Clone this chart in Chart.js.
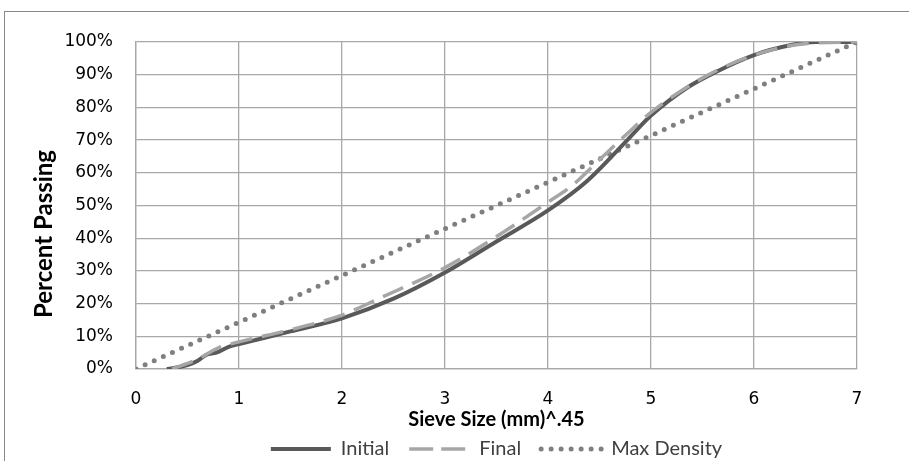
<!DOCTYPE html>
<html>
<head>
<meta charset="utf-8">
<script src="https://cdn.jsdelivr.net/npm/chart.js@4.4.1/dist/chart.umd.min.js"></script>
<style>
  html, body { margin: 0; padding: 0; background: #fff; overflow: hidden; }
  #frame { position: absolute; left: 4px; top: 11px; width: 930px; height: 480px; border: 1.5px solid #8a8a8a; }
  #wrap { position: absolute; left: 0; top: 0; width: 909px; height: 469px; }
</style>
</head>
<body>
<div id="frame"></div>
<div id="wrap"><canvas id="myChart"></canvas></div>
<script>
// chart data (x = sieve size (mm)^0.45, y = percent passing)
var initialX = [0.3, 0.5, 0.6, 0.68, 0.78, 0.9, 1.0, 1.5, 2.0, 2.5, 3.0, 3.5, 4.0, 4.38, 4.77, 5.0, 5.35, 5.64, 6.0, 6.35, 6.6, 7.0];
var initialY = [0, 1.2, 2.5, 4.3, 5.0, 6.8, 7.6, 11.5, 15.5, 21.5, 29.5, 39, 48.5, 57.5, 70, 77.5, 86, 91, 96, 99, 100, 100];
var finalX = [0.35, 0.6, 0.8, 1.0, 1.5, 2.0, 2.37, 3.0, 3.5, 4.0, 4.23, 4.5, 4.77, 5.0, 5.5, 6.0, 6.5, 7.0];
var finalY = [0, 3, 6.5, 8.3, 12, 16.5, 21.7, 31, 40.5, 51, 56, 64, 72, 78.5, 89, 96, 99.5, 100];
var maxX = [0, 1, 2, 3, 4, 5, 6, 7];
var maxY = [0, 14.3, 28.6, 42.9, 57.1, 71.4, 85.7, 100];
var seriesNames = ["Initial", "Final", "Max Density"];
var xTitle = "Sieve Size (mm)^.45";
var yTitle = "Percent Passing";

function pts(xs, ys) {
    return xs.map(function (x, i) { return { x: x, y: ys[i] }; });
}

var gridColor = "#a8a8a8";

// y axis title, drawn a bit below the middle like the original
var yTitlePlugin = {
    id: "yTitle",
    afterDraw: function (chart) {
        var c = chart.ctx;
        c.save();
        c.translate(44, 234);
        c.rotate(-Math.PI / 2);
        c.font = "bold 24px Lato";
        c.fillStyle = "#000";
        c.textAlign = "center";
        c.textBaseline = "middle";
        c.fillText(yTitle, 0, 0);
        c.restore();
    }
};

var ctx = document.getElementById("myChart").getContext("2d");
var myChart = new Chart(ctx, {
    type: "line",
    data: {
        datasets: [{
            label: seriesNames[0],
            data: pts(initialX, initialY),
            borderColor: "#595959",
            backgroundColor: "#595959",
            borderWidth: 4,
            pointRadius: 0,
            cubicInterpolationMode: "monotone",
            order: 1
        }, {
            label: seriesNames[1],
            data: pts(finalX, finalY),
            borderColor: "#a6a6a6",
            backgroundColor: "#a6a6a6",
            borderWidth: 3.5,
            borderDash: [22, 10],
            pointRadius: 0,
            cubicInterpolationMode: "monotone",
            order: 0
        }, {
            label: seriesNames[2],
            data: pts(maxX, maxY),
            borderColor: "#7f7f7f",
            backgroundColor: "#7f7f7f",
            borderWidth: 5,
            borderDash: [0, 10],
            borderCapStyle: "round",
            pointRadius: 0,
            order: 2
        }]
    },
    options: {
        responsive: true,
        maintainAspectRatio: false,
        animation: false,
        layout: { padding: { left: 0, right: 52, top: 42, bottom: 0 } },
        plugins: {
            legend: {
                position: "bottom",
                fullSize: false,
                labels: {
                    boxWidth: 60,
                    boxHeight: 0,
                    padding: 20,
                    color: "#404040",
                    font: { family: "Lato", size: 20 },
                    sort: function (a, b) { return a.datasetIndex - b.datasetIndex; }
                }
            },
            tooltip: { enabled: false }
        },
        scales: {
            x: {
                type: "linear",
                min: 0,
                max: 7,
                afterFit: function (scale) { scale.height = 50; },
                ticks: { stepSize: 1, padding: 20, color: "#000", font: { family: "DejaVu Sans", size: 17 } },
                grid: { color: gridColor, lineWidth: 1.3, drawTicks: false },
                border: { color: gridColor, width: 1.3 },
                title: {
                    display: true,
                    text: xTitle,
                    color: "#000",
                    padding: { top: 0, bottom: -11 },
                    font: { family: "Lato", size: 20, weight: "bold", lineHeight: 1.0 }
                }
            },
            y: {
                min: 0,
                max: 100,
                afterFit: function (scale) { scale.width = 136; },
                ticks: {
                    stepSize: 10,
                    padding: 23,
                    color: "#000",
                    font: { family: "DejaVu Sans", size: 17 },
                    callback: function (v) { return v + "%"; }
                },
                grid: { color: gridColor, lineWidth: 1.3, drawTicks: false },
                border: { color: gridColor, width: 1.3 }
            }
        }
    },
    plugins: [yTitlePlugin]
});
</script>
</body>
</html>
